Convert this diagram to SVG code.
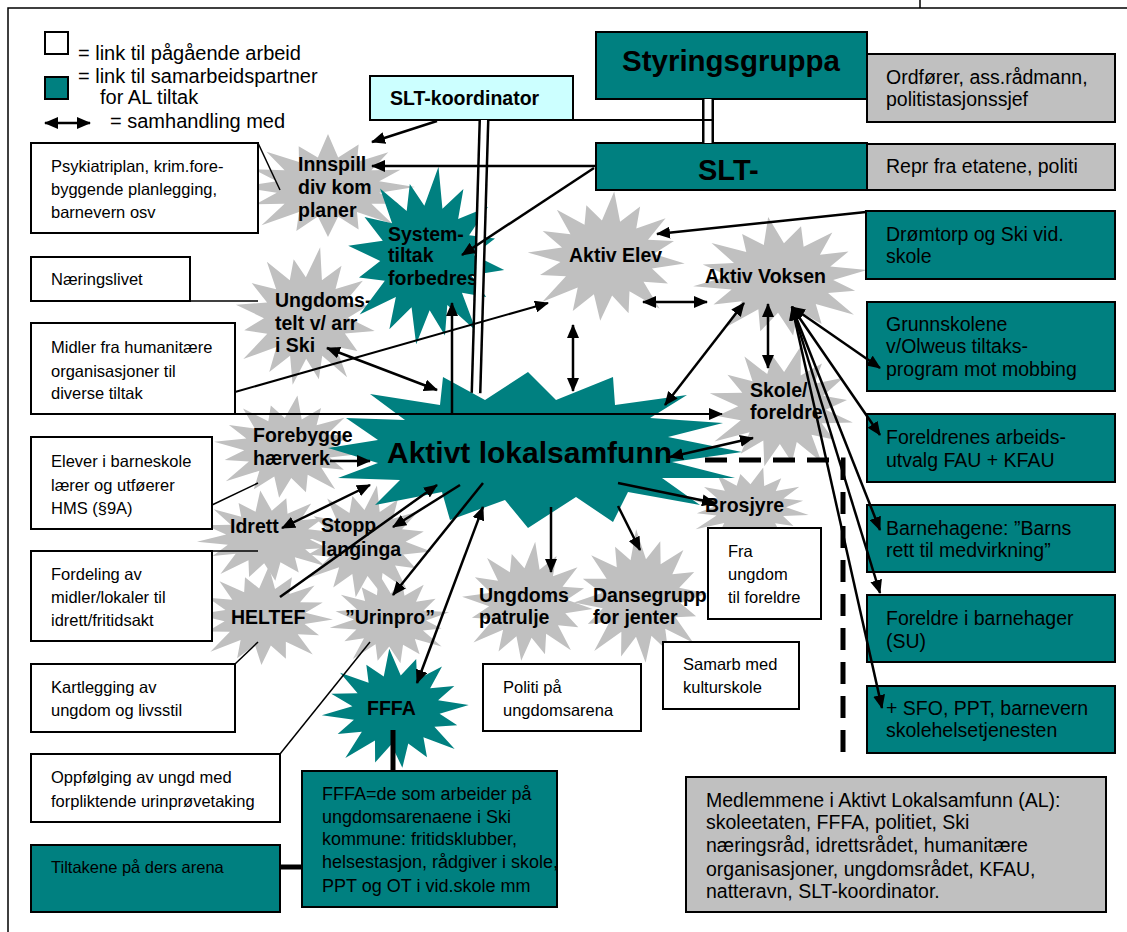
<svg xmlns="http://www.w3.org/2000/svg" xmlns:xlink="http://www.w3.org/1999/xlink" width="1127" height="932" viewBox="0 0 1127 932">
<style>
.bx{stroke:#000;stroke-width:2}
.w{fill:#fff}.t{fill:#008080}.g{fill:#C0C0C0}.c{fill:#CCFFFF}
text{font-family:"Liberation Sans",Arial,sans-serif;fill:#000}
.s{font-size:16.5px}.m{font-size:19.5px}.f{font-size:18px}.lg{font-size:20px}
.b{font-weight:bold;font-size:19.5px}
.ln{stroke:#000;stroke-width:1.5;fill:none}
.ar{stroke:#000;stroke-width:2.5;fill:none;marker-end:url(#ah)}
.ar2{stroke:#000;stroke-width:2.5;fill:none;marker-end:url(#ah);marker-start:url(#ah)}
.thk{stroke:#000;stroke-width:5;fill:none}
</style>
<defs>
<marker id="ah" viewBox="0 0 14 12" refX="13" refY="6" markerWidth="14" markerHeight="12" markerUnits="userSpaceOnUse" orient="auto-start-reverse"><path d="M0,0 L14,6 L0,12 Z" fill="#000"/></marker>
<path id="burst" d="M100,0 L58.9,11.7 L81.3,33.7 L49.9,33.3 L74.2,74.2 L33.3,49.9 L35.2,85 L11.7,58.9 L0,100 L-11.7,58.9 L-36.4,87.8 L-33.3,49.9 L-76.4,76.4 L-49.9,33.3 L-83.2,34.4 L-58.9,11.7 L-102,0 L-58.9,-11.7 L-85.9,-35.6 L-49.9,-33.3 L-70.7,-70.7 L-33.3,-49.9 L-33.7,-81.3 L-11.7,-58.9 L0,-106 L11.7,-58.9 L35.2,-85 L33.3,-49.9 L69.3,-69.3 L49.9,-33.3 L83.2,-34.4 L58.9,-11.7 Z"/>
</defs>

<g id="frame" fill="none" stroke="#000" stroke-width="1.5">
<path d="M8,932 V8 H1127"/><path d="M920,0 V8"/>
</g>

<g id="legend">
<rect class="bx w" x="45" y="32" width="23" height="22"/>
<text class="lg" x="78" y="60">= link til pågående arbeid</text>
<rect class="bx t" x="45" y="77" width="23" height="22"/>
<text class="lg" x="78" y="83">= link til samarbeidspartner</text>
<text class="lg" x="100" y="104">for AL tiltak</text>
<line class="ar2" x1="45" y1="123" x2="90" y2="123"/>
<text class="lg" x="110" y="128">= samhandling med</text>
</g>

<!-- gray starbursts -->
<g id="innspill"><use xlink:href="#burst" class="g" transform="translate(328,187) scale(0.87,0.5)"/>
<text class="b" x="298" y="171">Innspill</text><text class="b" x="298" y="194">div kom</text><text class="b" x="298" y="217">planer</text></g>
<g id="ungdomstelt"><use xlink:href="#burst" class="g" transform="translate(306,318) scale(0.7,0.68) rotate(11)"/>
<text class="b" x="275" y="307">Ungdoms-</text><text class="b" x="275" y="330">telt v/ arr</text><text class="b" x="275" y="352">i Ski</text></g>
<g id="aktivelev"><use xlink:href="#burst" class="g" transform="translate(607,258) scale(0.78,0.63) rotate(5)"/>
<text class="b" x="569" y="262">Aktiv Elev</text></g>
<g id="aktivvoksen"><use xlink:href="#burst" class="g" transform="translate(781,278) scale(0.87,0.58) rotate(-8)"/>
<text class="b" x="705" y="283">Aktiv Voksen</text></g>
<g id="skole"><use xlink:href="#burst" class="g" transform="translate(782,408) scale(0.73,0.6) rotate(14)"/>
<text class="b" x="750" y="397">Skole/</text><text class="b" x="750" y="419">foreldre</text></g>
<g id="forebygge"><use xlink:href="#burst" class="g" transform="translate(288,448) scale(0.73,0.5) rotate(7)"/>
<text class="b" x="253" y="442">Forebygge</text><text class="b" x="253" y="465">hærverk</text></g>
<g id="idrett"><use xlink:href="#burst" class="g" transform="translate(268,537) scale(0.7,0.44) rotate(-6)"/>
<text class="b" x="230" y="533">Idrett</text></g>
<g id="stopp"><use xlink:href="#burst" class="g" transform="translate(366,543) scale(0.66,0.55) rotate(9)"/>
<text class="b" x="321" y="532">Stopp</text><text class="b" x="321" y="556">langinga</text></g>
<g id="heltef"><use xlink:href="#burst" class="g" transform="translate(265,617) scale(0.68,0.48) rotate(3)"/>
<text class="b" x="231" y="624">HELTEF</text></g>
<g id="urinpro"><use xlink:href="#burst" class="g" transform="translate(390,620) scale(0.6,0.44) rotate(-10)"/>
<text class="b" x="345" y="624">”Urinpro”</text></g>
<g id="patrulje"><use xlink:href="#burst" class="g" transform="translate(528,603) scale(0.65,0.58) rotate(6)"/>
<text class="b" x="479" y="602">Ungdoms</text><text class="b" x="479" y="624">patrulje</text></g>
<g id="dansegruppe"><use xlink:href="#burst" class="g" transform="translate(641,598) scale(0.66,0.65) rotate(-4)"/>
<text class="b" x="593" y="602">Dansegrupp</text><text class="b" x="593" y="624">for jenter</text></g>
<g id="brosjyre"><use xlink:href="#burst" class="g" transform="translate(750,507) scale(0.6,0.38) rotate(12)"/>
<text class="b" x="705" y="512">Brosjyre</text></g>

<!-- teal starbursts -->
<g id="systemtiltak"><use xlink:href="#burst" class="t" transform="translate(427,258) scale(0.78,0.87) rotate(8)"/>
<text class="b" x="388" y="241">System-</text><text class="b" x="388" y="262">tiltak</text><text class="b" x="388" y="285">forbedres</text></g>
<g id="aktivt">
<path class="t" d="M328,448 L378,440 L346,418 L405,420 L370,394 L440,405 L443,377 L485,400 L528,372 L556,400 L613,377 L615,405 L687,395 L650,418 L723,423 L668,437 L742,452 L672,462 L735,478 L662,478 L700,505 L628,492 L613,522 L576,497 L528,528 L505,500 L450,520 L442,492 L375,505 L400,480 L338,478 L378,463 Z"/>
<text x="387" y="463" style="font-weight:bold;font-size:30px">Aktivt lokalsamfunn</text></g>
<g id="fffa"><use xlink:href="#burst" class="t" transform="translate(396,710) scale(0.73,0.58) rotate(-5)"/>
<text class="b" x="367" y="715">FFFA</text></g>

<!-- top boxes -->
<g id="styringsgruppa"><rect class="bx t" x="596" y="32" width="271" height="67"/>
<text x="731" y="71" text-anchor="middle" style="font-weight:bold;font-size:29.5px">Styringsgruppa</text></g>
<g id="slt"><rect class="bx t" x="596" y="143" width="271" height="47"/>
<text x="698" y="180" style="font-weight:bold;font-size:29px">SLT-</text></g>
<g id="sltkoord"><rect class="bx c" x="370" y="76" width="203" height="44"/>
<text class="b" x="390" y="105">SLT-koordinator</text></g>
<g id="ordforer"><rect class="bx g" x="867" y="54" width="248" height="68"/>
<text class="m" x="886" y="84">Ordfører, ass.rådmann,</text><text class="m" x="886" y="106">politistasjonssjef</text></g>
<g id="repr"><rect class="bx g" x="867" y="144" width="248" height="46"/>
<text class="m" x="886" y="173">Repr fra etatene, politi</text></g>

<!-- right boxes -->
<g id="dromtorp"><rect class="bx t" x="866" y="211" width="249" height="68"/>
<text class="m" x="886" y="241">Drømtorp og Ski vid.</text><text class="m" x="886" y="263">skole</text></g>
<g id="grunnskolene"><rect class="bx t" x="867" y="302" width="248" height="89"/>
<text class="m" x="886" y="331">Grunnskolene</text><text class="m" x="886" y="353">v/Olweus tiltaks-</text><text class="m" x="886" y="376">program mot mobbing</text></g>
<g id="fau"><rect class="bx t" x="867" y="414" width="248" height="68"/>
<text class="m" x="886" y="444">Foreldrenes arbeids-</text><text class="m" x="886" y="467">utvalg FAU + KFAU</text></g>
<g id="barnehagene"><rect class="bx t" x="867" y="505" width="248" height="67"/>
<text class="m" x="886" y="535">Barnehagene: ”Barns</text><text class="m" x="886" y="557">rett til medvirkning”</text></g>
<g id="su"><rect class="bx t" x="867" y="595" width="248" height="67"/>
<text class="m" x="886" y="625">Foreldre i barnehager</text><text class="m" x="886" y="648">(SU)</text></g>
<g id="sfo"><rect class="bx t" x="867" y="686" width="248" height="67"/>
<text class="m" x="886" y="715">+ SFO, PPT, barnevern</text><text class="m" x="886" y="737">skolehelsetjenesten</text></g>
<g id="medlemmene"><rect class="bx g" x="686" y="777" width="420" height="135"/>
<text class="m" x="706" y="807">Medlemmene i Aktivt Lokalsamfunn (AL):</text>
<text class="m" x="706" y="829">skoleetaten, FFFA, politiet, Ski</text>
<text class="m" x="706" y="852">næringsråd, idrettsrådet, humanitære</text>
<text class="m" x="706" y="876">organisasjoner, ungdomsrådet, KFAU,</text>
<text class="m" x="706" y="898">natteravn, SLT-koordinator.</text></g>

<!-- left boxes -->
<g id="psyk"><rect class="bx w" x="31" y="143" width="227" height="90"/>
<text class="s" x="51" y="172">Psykiatriplan, krim.fore-</text><text class="s" x="51" y="195">byggende planlegging,</text><text class="s" x="51" y="218">barnevern osv</text></g>
<g id="naering"><rect class="bx w" x="31" y="257" width="159" height="44"/>
<text class="s" x="51" y="285">Næringslivet</text></g>
<g id="midler"><rect class="bx w" x="31" y="323" width="204" height="91"/>
<text class="s" x="51" y="353">Midler fra humanitære</text><text class="s" x="51" y="377">organisasjoner til</text><text class="s" x="51" y="399">diverse tiltak</text></g>
<g id="elever"><rect class="bx w" x="31" y="437" width="181" height="92"/>
<text class="s" x="51" y="467">Elever i barneskole</text><text class="s" x="51" y="491">lærer og utføerer</text><text class="s" x="51" y="514">HMS (§9A)</text></g>
<g id="fordeling"><rect class="bx w" x="31" y="551" width="181" height="90"/>
<text class="s" x="51" y="580">Fordeling av</text><text class="s" x="51" y="603">midler/lokaler til</text><text class="s" x="51" y="626">idrett/fritidsakt</text></g>
<g id="kartlegging"><rect class="bx w" x="31" y="664" width="204" height="68"/>
<text class="s" x="51" y="693">Kartlegging av</text><text class="s" x="51" y="716">ungdom og livsstil</text></g>
<g id="oppfolging"><rect class="bx w" x="31" y="754" width="249" height="68"/>
<text class="s" x="51" y="783">Oppfølging av ungd med</text><text class="s" x="51" y="807">forpliktende urinprøvetaking</text></g>
<g id="tiltakene"><rect class="bx t" x="31" y="845" width="249" height="67"/>
<text class="s" x="51" y="873">Tiltakene på ders arena</text></g>
<g id="fffabox"><rect class="bx t" x="302" y="771" width="255" height="136"/>
<text class="f" x="322" y="800">FFFA=de som arbeider på</text><text class="f" x="322" y="823">ungdomsarenaene i Ski</text><text class="f" x="322" y="845">kommune: fritidsklubber,</text><text class="f" x="322" y="868">helsestasjon, rådgiver i skole,</text><text class="f" x="322" y="892">PPT og OT i vid.skole mm</text></g>
<g id="fraungdom"><rect class="bx w" x="708" y="528" width="113" height="91"/>
<text class="s" x="728" y="557">Fra</text><text class="s" x="728" y="580">ungdom</text><text class="s" x="728" y="603">til foreldre</text></g>
<g id="politi"><rect class="bx w" x="483" y="664" width="158" height="67"/>
<text class="s" x="503" y="693">Politi på</text><text class="s" x="503" y="716">ungdomsarena</text></g>
<g id="samarb"><rect class="bx w" x="663" y="642" width="136" height="67"/>
<text class="s" x="683" y="670">Samarb med</text><text class="s" x="683" y="693">kulturskole</text></g>

<g id="connectors">
<!-- double lines -->
<line x1="708" y1="99" x2="708" y2="143" stroke="#000" stroke-width="12"/>
<line x1="708" y1="99" x2="708" y2="143" stroke="#fff" stroke-width="7"/>
<line x1="484" y1="120" x2="476" y2="393" stroke="#000" stroke-width="11"/>
<line x1="484" y1="120" x2="476" y2="393" stroke="#fff" stroke-width="6"/>
<line class="ln" x1="573" y1="120" x2="712" y2="120" style="stroke-width:2"/>
<!-- plain lines -->
<line class="ln" x1="258" y1="143" x2="280" y2="190"/>
<line class="ln" x1="190" y1="301" x2="258" y2="301"/>
<line class="ln" x1="212" y1="505" x2="258" y2="483"/>
<line class="ln" x1="212" y1="551" x2="258" y2="551"/>
<line class="ln" x1="235" y1="664" x2="258" y2="642"/>
<line class="ln" x1="280" y1="754" x2="370" y2="642"/>
<!-- arrows -->
<line class="ar" x1="437" y1="121" x2="372" y2="142"/>
<line class="ar" x1="596" y1="166" x2="372" y2="166"/>
<line class="ar" x1="594" y1="168" x2="462" y2="255"/>
<line class="ar" x1="866" y1="212" x2="657" y2="234"/>
<line class="ar" x1="235" y1="392" x2="548" y2="303" style="stroke-width:2"/>
<line class="ar" x1="235" y1="414" x2="722" y2="414" style="stroke-width:2"/>
<line class="ar2" x1="327" y1="348" x2="437" y2="390"/>
<line class="ar" x1="452" y1="415" x2="452" y2="303"/>
<line class="ar" x1="330" y1="461" x2="370" y2="461"/>
<line class="ar2" x1="282" y1="528" x2="370" y2="485"/>
<line class="ar" x1="280" y1="597" x2="437" y2="485"/>
<line class="ar" x1="460" y1="485" x2="393" y2="527"/>
<line class="ar" x1="483" y1="483" x2="393" y2="595"/>
<line class="ar2" x1="483" y1="507" x2="417" y2="683"/>
<line class="ar" x1="551" y1="507" x2="551" y2="572"/>
<line class="ar" x1="618" y1="506" x2="640" y2="550"/>
<line class="ar" x1="618" y1="483" x2="715" y2="503"/>
<line class="ar2" x1="670" y1="457" x2="753" y2="438"/>
<line class="ar2" x1="643" y1="302" x2="707" y2="302"/>
<line class="ar2" x1="573" y1="325" x2="573" y2="391"/>
<line class="ar2" x1="744" y1="303" x2="665" y2="405"/>
<line class="ar2" x1="768" y1="304" x2="768" y2="368"/>
<line class="ar2" x1="792" y1="307" x2="880" y2="368"/>
<line class="ar2" x1="792" y1="307" x2="880" y2="435"/>
<line class="ar2" x1="792" y1="307" x2="880" y2="530"/>
<line class="ar2" x1="792" y1="307" x2="880" y2="593"/>
<line class="ar2" x1="792" y1="307" x2="882" y2="708"/>
<!-- dashed & thick -->
<path d="M705,460 H843 V752" fill="none" stroke="#000" stroke-width="5" stroke-dasharray="22 12"/>
<line class="thk" x1="393" y1="730" x2="393" y2="771"/>
<line class="thk" x1="280" y1="867" x2="302" y2="867"/>
</g>
</svg>
